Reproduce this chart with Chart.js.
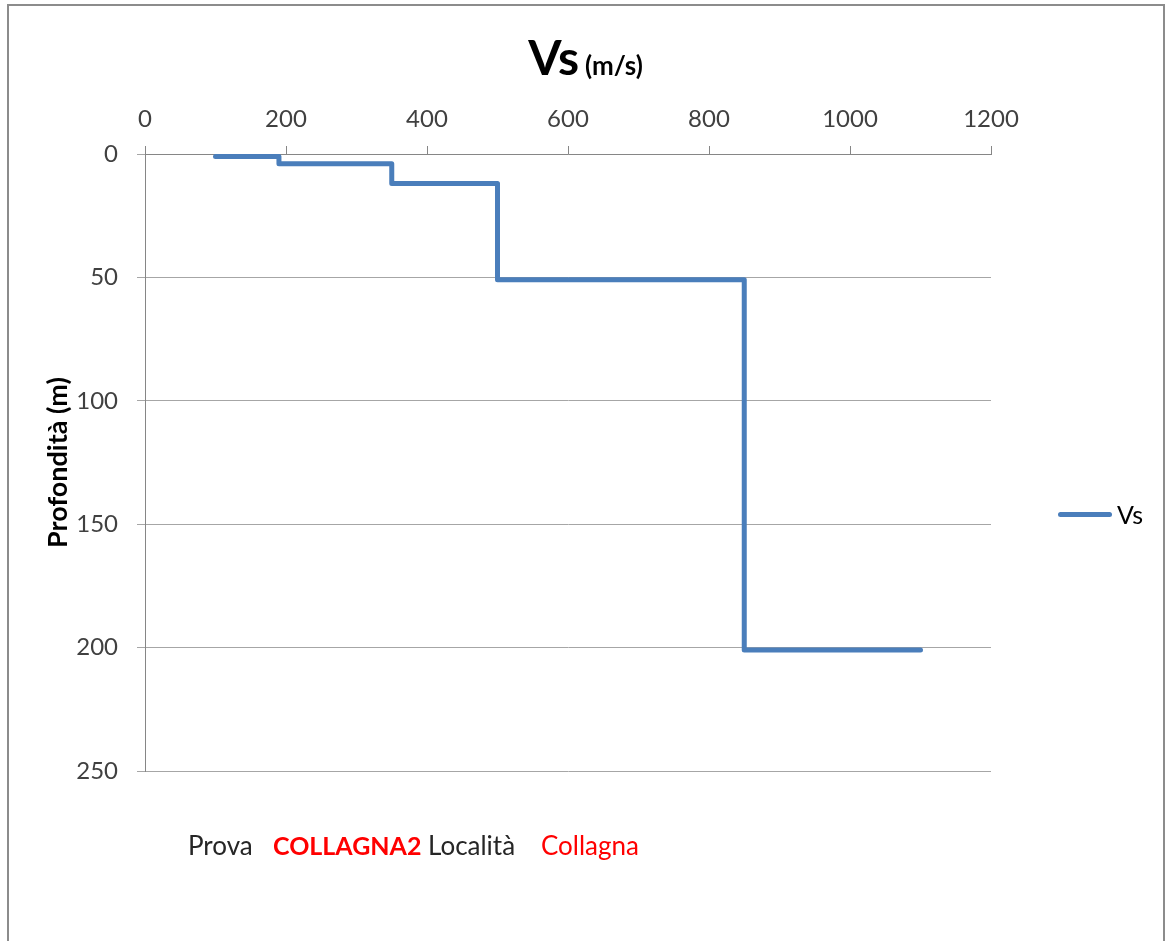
<!DOCTYPE html>
<html>
<head>
<meta charset="utf-8">
<script src="https://cdn.jsdelivr.net/npm/chart.js@4"></script>
<style>
  html, body { margin: 0; padding: 0; background: #fff; }
  body { width: 1171px; height: 941px; position: relative; overflow: hidden; font-family: Lato, sans-serif; }
  #frame { position: absolute; left: 7px; top: 4px; width: 1158px; height: 950px; border: 2px solid #8c8c8c; box-sizing: border-box; }
  #c { position: absolute; left: 0; top: 0; }
  #title { position: absolute; left: 0; width: 1171px; top: 28px; text-align: center; font-weight: bold; color: #000; white-space: nowrap; }
  #title .big { font-size: 48px; }
  #title .small { font-size: 26px; font-weight: bold; margin-left: 2px; }
  #legend { position: absolute; left: 1058px; top: 500px; height: 28px; display: flex; align-items: center; }
  #legend .sw { width: 54px; height: 5px; border-radius: 3px; background: #4a7ebb; margin-right: 5px; }
  #legend .lb { font-size: 25px; color: #000; }
  .note { position: absolute; top: 829px; font-size: 26px; white-space: nowrap; }
</style>
</head>
<body>
<div id="frame"></div>
<canvas id="c" width="1171" height="941"></canvas>
<div id="title"><span class="big">Vs</span> <span class="small">(m/s)</span></div>
<div id="legend"><div class="sw"></div><div class="lb">Vs</div></div>
<div class="note" style="left:188px;color:#262626;">Prova</div>
<div class="note" style="left:273px;top:830px;color:#ff0000;font-weight:bold;font-size:25px;">COLLAGNA2</div>
<div class="note" style="left:428px;color:#262626;">Località</div>
<div class="note" style="left:541px;color:#ff0000;">Collagna</div>
<script>
// Data (step profile)
const seriesName = "Vs";
const vsValues = [100, 190, 190, 350, 350, 500, 500, 850, 850, 1100];   // m/s
const depthValues = [1, 1, 4, 4, 12, 12, 51, 51, 201, 201];             // m
const xTicks = [0, 200, 400, 600, 800, 1000, 1200];
const yTicks = [0, 50, 100, 150, 200, 250];

const points = vsValues.map((v, i) => ({ x: v, y: depthValues[i] }));

new Chart(document.getElementById('c'), {
  type: 'scatter',
  data: {
    datasets: [{
      label: seriesName,
      data: points,
      showLine: true,
      borderColor: '#4a7ebb',
      backgroundColor: '#4a7ebb',
      borderWidth: 5,
      borderCapStyle: 'round',
      borderJoinStyle: 'round',
      pointRadius: 0,
      tension: 0
    }]
  },
  options: {
    responsive: false,
    devicePixelRatio: 1,
    animation: false,
    layout: { padding: { left: 40, top: 0, right: 180, bottom: 170 } },
    plugins: { legend: { display: false }, title: { display: false }, tooltip: { enabled: false } },
    scales: {
      x: {
        type: 'linear', position: 'top',
        min: xTicks[0], max: xTicks[xTicks.length - 1],
        afterBuildTicks: (s) => { s.ticks = xTicks.map(v => ({ value: v })); },
        afterFit: (s) => { s.height = 154; },
        ticks: { font: { family: 'Lato', size: 24 }, color: '#404040', padding: 12, maxRotation: 0, callback: (v) => String(v) },
        grid: { drawOnChartArea: false, drawTicks: true, tickLength: 8, color: '#868686' },
        border: { color: '#868686', width: 1 }
      },
      y: {
        type: 'linear', reverse: true,
        min: yTicks[0], max: yTicks[yTicks.length - 1],
        afterBuildTicks: (s) => { s.ticks = yTicks.map(v => ({ value: v })); },
        afterFit: (s) => { s.width = 105; },
        ticks: { font: { family: 'Lato', size: 24 }, color: '#404040', padding: 19, callback: (v) => String(v) },
        grid: { color: '#a6a6a6', tickLength: 8, drawTicks: true },
        border: { color: '#868686', width: 1 },
        title: { display: true, text: 'Profondità (m)', font: { family: 'Lato', size: 27, weight: 'bold' }, color: '#000', padding: { top: 2, bottom: 2 } }
      }
    }
  }
});
</script>
</body>
</html>
